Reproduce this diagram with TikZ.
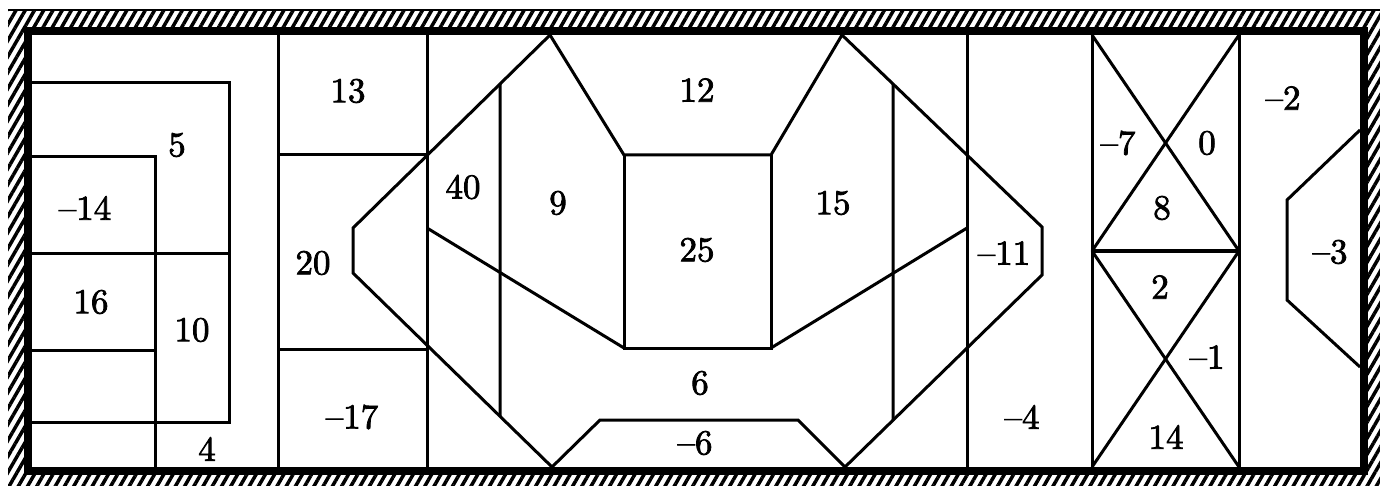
\documentclass[tikz,border=0pt]{standalone}
\usepackage{fontspec}
\newfontfamily\numfont{lmroman10-regular.otf}[FakeBold=2.2]
\usetikzlibrary{patterns.meta}
\begin{document}
\begin{tikzpicture}[x=1pt,y=-1pt,
  wall/.style={line width=3pt, line join=miter},
  lbl/.style={inner sep=0pt, font=\numfont\fontsize{35}{40}\selectfont}]
\useasboundingbox (0,0) rectangle (1380,486);
\fill[white] (0,0) rectangle (1380,486);
% frame
\fill[pattern={Lines[angle=60,distance=8pt,line width=3.5pt]}, pattern color=black] (8,11) rectangle (1380,486);
\draw[line width=2.5pt] (8,10) -- (1380,10);
\fill[black] (24,27) rectangle (1368,475);
\fill[white] (32,35) rectangle (1360,467);
% left section
\coordinate (a1) at (32,83);  \coordinate (a2) at (229,83);
\coordinate (a3) at (229,422); \coordinate (a4) at (32,422);
\coordinate (b1) at (32,157); \coordinate (b2) at (155,157); \coordinate (b3) at (155,467);
\coordinate (c1) at (32,253); \coordinate (c2) at (229,253);
\coordinate (d1) at (32,350); \coordinate (d2) at (155,350);
\coordinate (e1) at (278,35); \coordinate (e2) at (278,467);
\draw[wall] (a1) -- (a2) -- (a3) -- (a4);
\draw[wall] (b1) -- (b2) -- (b3);
\draw[wall] (c1) -- (c2);
\draw[wall] (d1) -- (d2);
\draw[wall] (e1) -- (e2);
% second section
\coordinate (f1) at (427,35); \coordinate (f2) at (427,467);
\coordinate (g1) at (278,155); \coordinate (g2) at (427,155);
\coordinate (h1) at (278,349); \coordinate (h2) at (427,349);
\draw[wall] (f1) -- (f2);
\draw[wall] (g1) -- (g2);
\draw[wall] (h1) -- (h2);
% big octagon
\coordinate (o1) at (550,35);  \coordinate (o2) at (353,228);
\coordinate (o3) at (353,273); \coordinate (o4) at (552,467);
\coordinate (o5) at (600,420); \coordinate (o6) at (798,420);
\coordinate (o7) at (845,467); \coordinate (o8) at (1042,275);
\coordinate (o9) at (1042,227); \coordinate (o10) at (842,35);
\draw[wall] (o1) -- (o2) -- (o3) -- (o4) -- (o5) -- (o6) -- (o7) -- (o8) -- (o9) -- (o10);
% centre pieces
\coordinate (p1) at (624,155); \coordinate (p2) at (771,155);
\coordinate (p3) at (624,348); \coordinate (p4) at (771,348);
\draw[wall] (o1) -- (p1) -- (p2) -- (o10);
\draw[wall] (p1) -- (p3) -- (p4) -- (p2);
\coordinate (q1) at (427,228); \coordinate (q2) at (967,228);
\draw[wall] (q1) -- (p3);
\draw[wall] (p4) -- (q2);
\coordinate (v1t) at (intersection of o1--o2 and 500,0--500,480);
\coordinate (v1b) at (intersection of o3--o4 and 500,0--500,480);
\coordinate (v2t) at (intersection of o10--o9 and 893,0--893,480);
\coordinate (v2b) at (intersection of o7--o8 and 893,0--893,480);
\draw[wall] (v1t) -- (v1b);
\draw[wall] (v2t) -- (v2b);
\coordinate (r1) at (967,35); \coordinate (r2) at (967,467);
\draw[wall] (r1) -- (r2);
% crossed boxes
\coordinate (s1) at (1092,35);  \coordinate (s2) at (1239,35);
\coordinate (s3) at (1092,251); \coordinate (s4) at (1239,251);
\coordinate (s5) at (1092,467); \coordinate (s6) at (1239,467);
\draw[wall] (s1) -- (s5);
\draw[wall] (s2) -- (s6);
\draw[wall] (s3) -- (s4);
\draw[wall] (s1) -- (s4);
\draw[wall] (s2) -- (s3);
\draw[wall] (s3) -- (s6);
\draw[wall] (s4) -- (s5);
% right shape
\coordinate (t1) at (1360,130); \coordinate (t2) at (1287,200);
\coordinate (t3) at (1287,300); \coordinate (t4) at (1360,367);
\draw[wall] (t1) -- (t2) -- (t3) -- (t4);
% labels
\node[lbl] (l5)   at (177,145) {5};
\node[lbl] (lm14) at (85,208) {–14};
\node[lbl] (l16)  at (91,302) {16};
\node[lbl] (l10)  at (192,330) {10};
\node[lbl] (l4)   at (207,449) {4};
\node[lbl] (l13)  at (348,91) {13};
\node[lbl] (l20)  at (313,263) {20};
\node[lbl] (lm17) at (352,417) {–17};
\node[lbl] (l40)  at (463,187) {40};
\node[lbl] (l9)   at (558,203) {9};
\node[lbl] (l12)  at (697,90) {12};
\node[lbl] (l25)  at (697,250) {25};
\node[lbl] (l15)  at (833,203) {15};
\node[lbl] (lm11) at (1004,253) {–11};
\node[lbl] (l6)   at (700,383) {6};
\node[lbl] (lm6)  at (695,443) {–6};
\node[lbl] (lm4)  at (1022,417) {–4};
\node[lbl] (lm7)  at (1118,143) {–7};
\node[lbl] (l0)   at (1207,143) {0};
\node[lbl] (l8)   at (1162,208) {8};
\node[lbl] (l2)   at (1160,287) {2};
\node[lbl] (lm1)  at (1207,357) {–1};
\node[lbl] (l14)  at (1166,437) {14};
\node[lbl] (lm2)  at (1283,98) {–2};
\node[lbl] (lm3)  at (1330,252) {–3};
\end{tikzpicture}
\end{document}
